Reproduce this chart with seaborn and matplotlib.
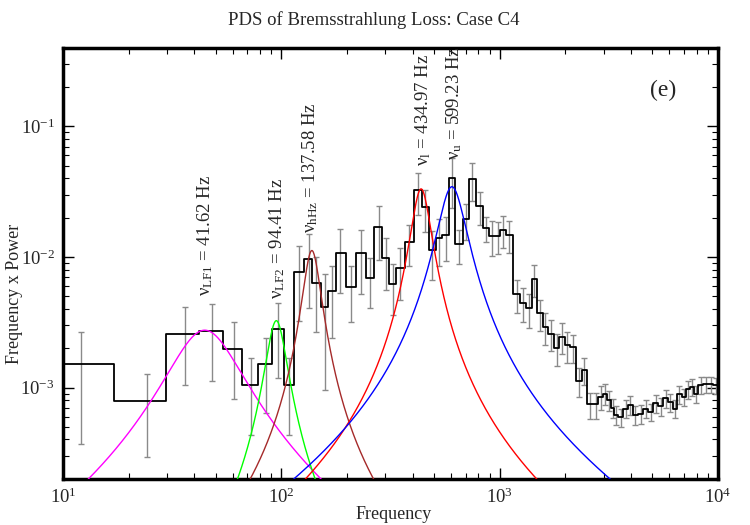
import numpy as np
import pandas as pd
import matplotlib
matplotlib.use('Agg')
import matplotlib.pyplot as plt
import seaborn as sns

# binned PDS (frequency x power)
freq = [12.1, 24.2, 36.3, 48.4, 60.5, 72.6, 84.7, 96.8, 108.9,
        121, 133.6, 144.5, 158.7, 170.3, 186.6, 209, 231.5, 256, 279, 302, 325, 350,
        386, 424, 455, 492, 530, 566, 603, 654, 702, 745, 813, 866, 920, 980, 1040, 1110,
        1197, 1279, 1361, 1446, 1531, 1623, 1722, 1827, 1936, 2047, 2169, 2306, 2449, 2604, 2775, 2905,
        3039, 3187, 3300, 3420, 3589, 3784, 3978, 4194, 4436, 4674, 4927, 5194, 5475, 5772, 6066,
        6361, 6670, 6982, 7295, 7609, 7953, 8350, 8802, 9280, 9772]
power = [1.52e-3, 7.85e-4, 2.59e-3, 2.73e-3, 1.99e-3, 1.05e-3, 1.51e-3, 2.83e-3, 1.05e-3,
         7.71e-3, 9.6e-3, 6.34e-3, 4.15e-3, 5.5e-3, 1.08e-2, 5.9e-3, 1.07e-2, 6.93e-3, 1.7e-2, 9.8e-3, 6.2e-3, 8.2e-3,
         1.31e-2, 3.26e-2, 2.42e-2, 1.13e-2, 1.40e-2, 1.48e-2, 4.03e-2, 1.25e-2, 1.95e-2, 3.96e-2, 2.47e-2, 1.66e-2,
         1.45e-2, 1.45e-2, 1.62e-2, 1.47e-2,
         5.2e-3, 4.45e-3, 4.04e-3, 6.8e-3, 3.7e-3, 2.9e-3, 2.59e-3, 2.02e-3, 2.45e-3, 2.1e-3, 2.04e-3, 1.13e-3,
         1.37e-3, 7.45e-4, 7.45e-4, 8.5e-4,
         9.0e-4, 8.0e-4, 7.0e-4, 6.2e-4, 5.9e-4, 6.9e-4, 7.4e-4, 6.2e-4, 6.3e-4, 6.9e-4, 6.5e-4, 7.6e-4, 7.2e-4,
         8.3e-4, 7.7e-4, 6.9e-4, 8.9e-4, 8.5e-4, 9.7e-4, 1.01e-3, 8.9e-4, 1.05e-3, 1.06e-3, 1.06e-3, 1.04e-3]
error = [1.15e-3, 4.9e-4, 1.55e-3, 1.61e-3, 1.17e-3, 6.2e-4, 8.7e-4, 1.64e-3, 6.2e-4,
         4.5e-3, 5.5e-3, 3.7e-3, 3.2e-3, 3.1e-3, 5.5e-3, 2.7e-3, 5.5e-3, 2.9e-3, 7.6e-3, 4.2e-3, 2.6e-3, 3.5e-3,
         4.5e-3, 1.15e-2, 8.6e-3, 4.6e-3, 5.4e-3, 5.5e-3, 1.65e-2, 3.7e-3, 6.0e-3, 1.3e-2, 7.0e-3, 3.5e-3,
         4.3e-3, 4.0e-3, 4.5e-3, 4.0e-3,
         1.5e-3, 1.3e-3, 1.2e-3, 1.9e-3, 1.0e-3, 8.0e-4, 7.0e-4, 5.5e-4, 6.5e-4, 5.5e-4, 5.0e-4, 2.8e-4,
         3.2e-4, 1.7e-4, 1.7e-4, 1.8e-4,
         1.6e-4, 1.4e-4, 1.2e-4, 1.0e-4, 9.5e-5, 1.1e-4, 1.2e-4, 1.0e-4, 1.0e-4, 1.1e-4, 1.0e-4, 1.2e-4, 1.1e-4,
         1.3e-4, 1.2e-4, 1.1e-4, 1.4e-4, 1.3e-4, 1.5e-4, 1.5e-4, 1.3e-4, 1.5e-4, 1.5e-4, 1.5e-4, 1.5e-4]

# Lorentzian components: centroid, half width, peak of f*P, colour
qpo_nu = [41.62, 94.41, 137.58, 434.97, 599.23]
qpo_width = [16.0, 10.0, 12.3, 44.0, 86.0]
qpo_peak = [2.75e-3, 3.25e-3, 1.12e-2, 3.32e-2, 3.45e-2]
qpo_color = ['magenta', '#00ff00', 'brown', 'red', 'blue']
qpo_label = ['ν$_{\\mathrm{LF1}}$ = 41.62 Hz', 'ν$_{\\mathrm{LF2}}$ = 94.41 Hz',
             'ν$_{\\mathrm{hHz}}$ = 137.58 Hz', 'ν$_{\\mathrm{l}}$ = 434.97 Hz',
             'ν$_{\\mathrm{u}}$ = 599.23 Hz']

sns.set_style('ticks')
plt.rcParams['font.family'] = ['Liberation Serif', 'DejaVu Serif']
plt.rcParams['mathtext.fontset'] = 'custom'
plt.rcParams['mathtext.rm'] = 'Liberation Serif'
plt.rcParams['mathtext.it'] = 'Liberation Serif:italic'

fig, ax = plt.subplots(figsize=(7.5, 5.25), dpi=100)
fig.subplots_adjust(left=0.084, right=0.957, top=0.909, bottom=0.088)

# step edges halfway (in log) between bin centres
f = np.array(freq)
mids = np.sqrt(f[1:] * f[:-1])
edges = np.concatenate([[f[0] ** 2 / mids[0]], mids, [f[-1] ** 2 / mids[-1]]])
df_steps = pd.DataFrame({'freq': edges, 'power': power + [power[-1]]})

ax.errorbar(freq, power, yerr=error, fmt='none', ecolor='#8a8a8a', elinewidth=1.0,
            capsize=2.5, capthick=1.0, zorder=2)
sns.lineplot(data=df_steps, x='freq', y='power', drawstyle='steps-post', color='black',
             lw=1.3, estimator=None, ax=ax, zorder=3)

# Lorentzian profiles
fgrid = np.logspace(1, 4, 1500)
for nu, w, pk, c in zip(qpo_nu, qpo_width, qpo_peak, qpo_color):
    g = fgrid / (w ** 2 + (fgrid - nu) ** 2)
    sns.lineplot(x=fgrid, y=g / g.max() * pk, color=c, lw=1.0, ax=ax, zorder=4)

ax.set_xscale('log')
ax.set_yscale('log')
ax.set_xlim(10, 1e4)
ax.set_ylim(2e-4, 0.4)

# labels of the components
label_x = [44.7, 95.6, 135, 445, 622]
label_y = [5.0e-3, 4.8e-3, 1.53e-2, 5.0e-2, 5.5e-2]
for lx, ly, txt in zip(label_x, label_y, qpo_label):
    ax.text(lx, ly, txt, rotation=90, ha='center', va='bottom', fontsize=13.5)

ax.text(0.916, 0.9, '(e)', transform=ax.transAxes, ha='center', va='center', fontsize=17)

ax.set_xlabel('Frequency', fontsize=13)
ax.set_ylabel('Frequency x Power', fontsize=13)
ax.xaxis.set_label_coords(0.505, -0.064)
ax.yaxis.set_label_coords(-0.061, 0.43)
fig.suptitle('PDS of Bremsstrahlung Loss: Case C4', x=0.498, y=0.961, va='center', fontsize=13.5)

ax.tick_params(which='both', direction='in', top=True, right=True, labelsize=13.5, color='black')
ax.tick_params(which='major', length=8, width=1.0, pad=6)
ax.tick_params(which='minor', length=4, width=0.8)
for sp in ax.spines.values():
    sp.set_linewidth(2.5)
    sp.set_color('black')

plt.savefig('out.png', dpi=100)
